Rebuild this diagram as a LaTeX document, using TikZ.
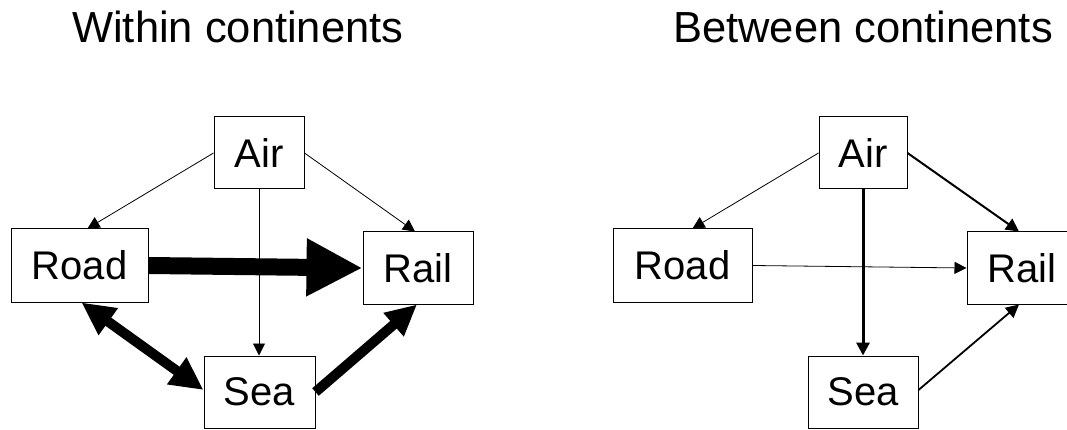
\documentclass[tikz,border=0pt]{standalone}
\usepackage{fontspec}
\setmainfont{Liberation Sans}
\usetikzlibrary{arrows.meta}
\begin{document}
\begin{tikzpicture}[x=1pt,y=-1pt,
  box/.style={draw=black,line width=1pt,inner sep=0pt,font=\fontsize{40}{48}\selectfont},
  ttl/.style={anchor=base west,inner sep=0pt,font=\fontsize{43.5}{52}\selectfont},
  thin/.style={line width=0.8pt,-{Triangle[length=12pt,width=12pt]}},
  mid/.style={line width=#1,-{Triangle[length=13pt,width=13pt]}},
  heavy/.style={line width=10pt,-{Triangle[length=31pt,width=29pt]}},
  heavyboth/.style={line width=10pt,{Triangle[length=33pt,width=31pt]}-{Triangle[length=33pt,width=31pt]}},
  huge/.style={line width=17pt,-{Triangle[length=56pt,width=54pt]}}]
\clip (0,0) rectangle (1067,430);
% titles
\node[ttl] (t1) at (72,43) {Within continents};
\node[ttl] (t2) at (673,43) {Between continents};
% left diagram
\node[box,minimum width=90pt,minimum height=72pt] (air1) at (259,153) {Air};
\node[box,minimum width=137pt,minimum height=73pt] (road1) at (79.5,265.5) {Road};
\node[box,minimum width=110pt,minimum height=72pt] (rail1) at (418,268) {Rail};
\node[box,minimum width=111pt,minimum height=72pt] (sea1) at (259.5,392) {Sea};
\draw[thin] (air1.west) -- ([xshift=8pt]road1.north);
\draw[thin] (air1.east) -- ([xshift=-3pt]rail1.north);
\draw[thin] (air1.south) -- (air1.south |- sea1.north);
\draw[huge] (road1.east) -- (rail1.west);
\draw[heavyboth] ([xshift=2pt]road1.south) -- ([yshift=2pt]sea1.west);
\draw[heavy] (sea1.east) -- ([xshift=-1pt]rail1.south);
% right diagram
\node[box,minimum width=88pt,minimum height=72pt] (air2) at (863,153) {Air};
\node[box,minimum width=139pt,minimum height=73pt] (road2) at (682.5,265.5) {Road};
\node[box,minimum width=110pt,minimum height=72pt] (rail2) at (1022,268) {Rail};
\node[box,minimum width=110pt,minimum height=72pt] (sea2) at (863,392) {Sea};
\draw[thin] (air2.west) -- ([xshift=10pt]road2.north);
\draw[mid=2pt] (air2.east) -- ([xshift=-3pt]rail2.north);
\draw[mid=3pt] (air2.south) -- (air2.south |- sea2.north);
\draw[thin] (road2.east) -- (rail2.west);
\draw[mid=1.8pt] ([yshift=2pt]sea2.east) -- ([xshift=-3pt]rail2.south);
\end{tikzpicture}
\end{document}
